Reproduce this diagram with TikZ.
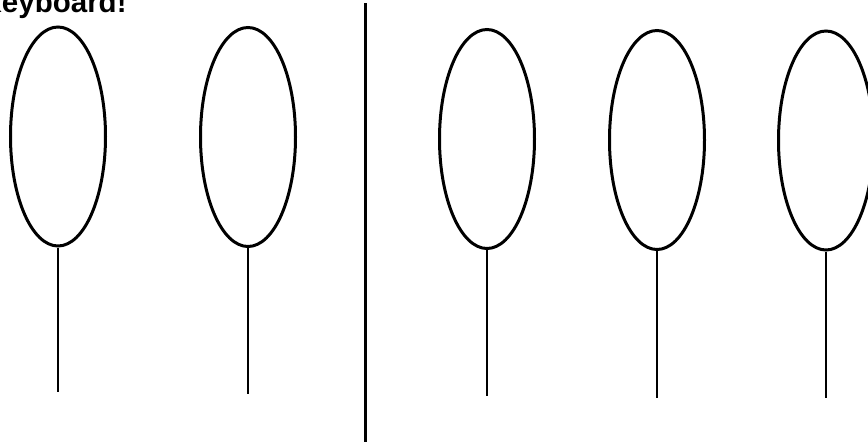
\documentclass[tikz,border=0pt]{standalone}
\usepackage{fontspec}
\setmainfont{Liberation Sans}
\usetikzlibrary{shapes.geometric}
\begin{document}
\begin{tikzpicture}[x=1pt,y=-1pt,
  key/.style={ellipse,draw,line width=3pt,inner sep=0pt,minimum width=95pt,minimum height=219pt},
  stick/.style={line width=2.2pt},
  divider/.style={line width=2.2pt}]
\useasboundingbox (0,0) rectangle (868,445);
\clip (0,0) rectangle (868,445);
\node[anchor=base west,inner sep=0pt,font=\bfseries\fontsize{29.5}{31}\selectfont] (title) at (-19.5,12) {Keyboard!};
\node[key] (k1) at (58,136.5) {};
\node[key] (k2) at (248,137) {};
\node[key] (k3) at (487,139) {};
\node[key] (k4) at (657,140) {};
\node[key] (k5) at (826,140.5) {};
\coordinate (e1) at (57,392);
\coordinate (e2) at (247,394);
\coordinate (e3) at (486,396);
\coordinate (e4) at (656,398);
\coordinate (e5) at (825,398);
\draw[stick] (k1.south) -- (k1.south |- e1);
\draw[stick] (k2.south) -- (k2.south |- e2);
\draw[stick] (k3.south) -- (k3.south |- e3);
\draw[stick] (k4.south) -- (k4.south |- e4);
\draw[stick] (k5.south) -- (k5.south |- e5);
\coordinate (dtop) at (365.5,3);
\coordinate (dbot) at (365.5,442);
\draw[divider] (dtop) -- (dbot);
\end{tikzpicture}
\end{document}
